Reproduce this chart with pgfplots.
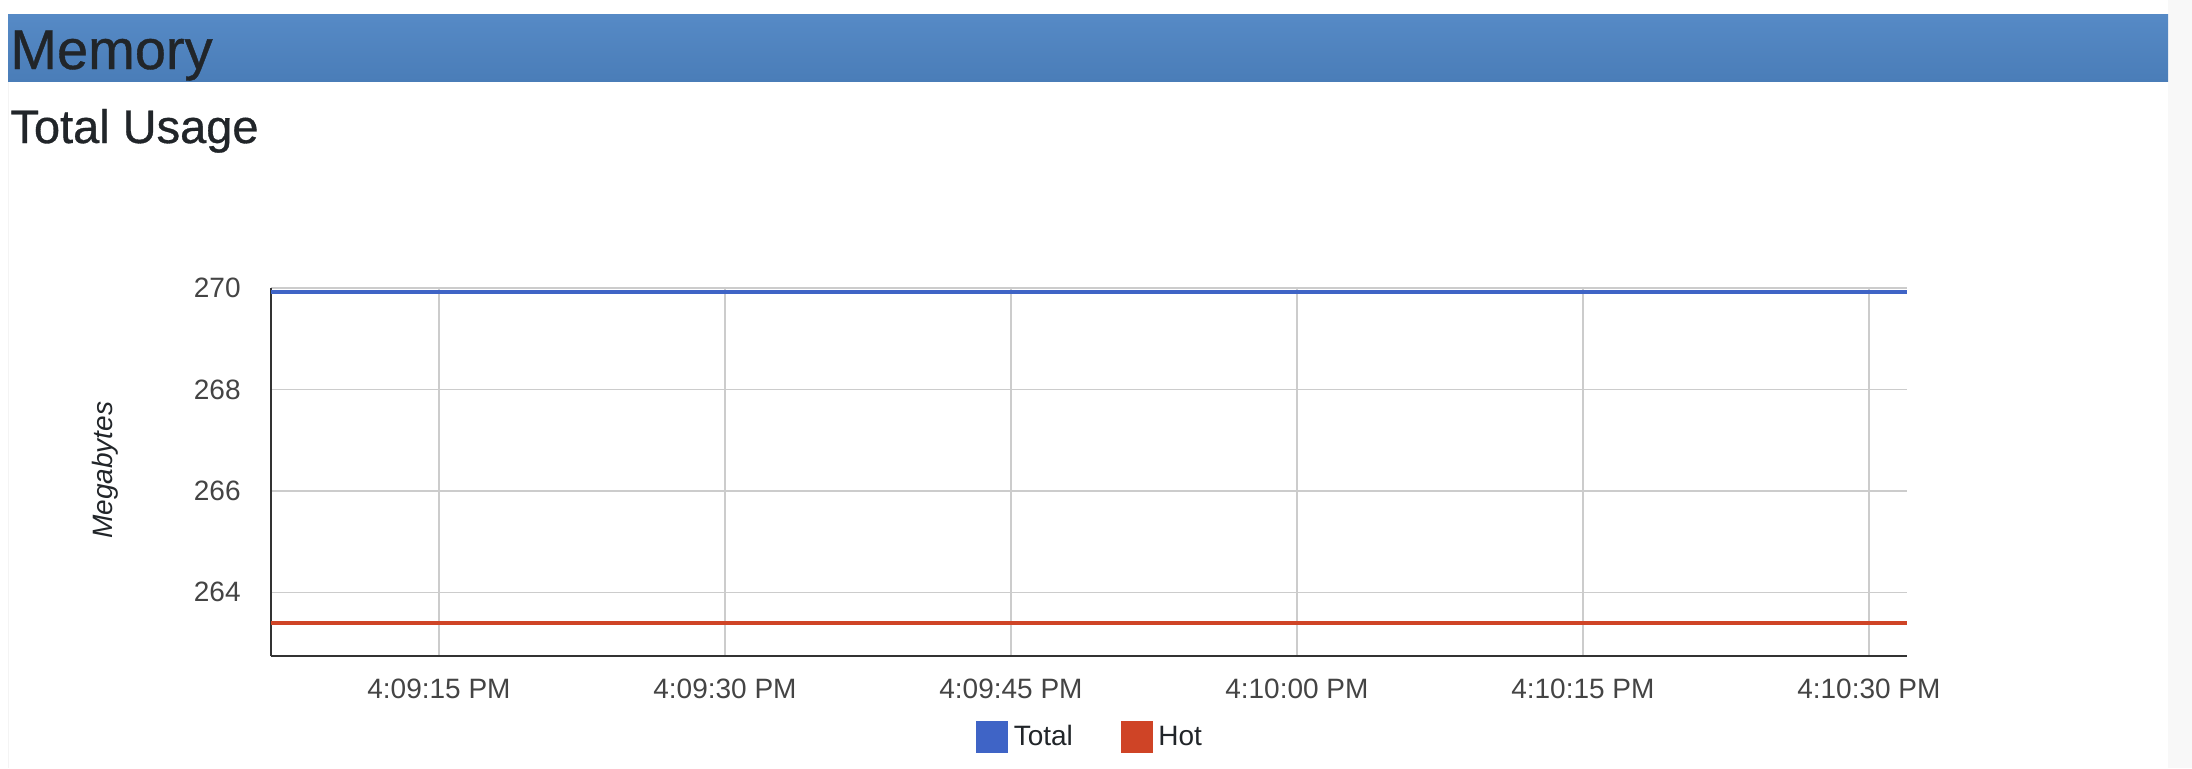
\documentclass[border=0pt]{standalone}
\usepackage{pgfplots}
\pgfplotsset{compat=1.18}
\usepackage{fontspec}
\setmainfont{Liberation Sans}
\newfontfamily\hdrfont[FakeBold=0.7]{Liberation Sans}
\definecolor{totalc}{HTML}{3F64C6}
\definecolor{hotc}{HTML}{CF4426}
\definecolor{hdrtop}{HTML}{568AC6}
\definecolor{hdrbot}{HTML}{4A7DB8}
\definecolor{txt}{HTML}{212529}
\definecolor{tick}{HTML}{444444}
\definecolor{gridc}{HTML}{CCCCCC}
\begin{document}
\begin{tikzpicture}
\fill[white] (0,0) rectangle (1096pt,-384pt);
\useasboundingbox (0,0) rectangle (1096pt,-384pt);
\fill[color={rgb,255:red,248;green,248;blue,248}] (1084pt,0) rectangle (1096pt,-384pt);
\draw[color={rgb,255:red,244;green,244;blue,244}, line width=0.5pt] (4pt,-40pt) -- (4pt,-384pt);
\shade[top color=hdrtop, bottom color=hdrbot] (4pt,-7pt) rectangle (1084pt,-40.5pt);
\node[anchor=base west, inner sep=0pt, text=txt, font=\hdrfont\fontsize{28pt}{30pt}\selectfont] at (5pt,-34.5pt) {Memory};
\node[anchor=base west, inner sep=0pt, text=txt, font=\hdrfont\fontsize{23.5pt}{26pt}\selectfont] at (5pt,-71.5pt) {Total Usage};
\begin{axis}[
  at={(135.5pt,-328pt)}, anchor=south west,
  scale only axis, width=818pt, height=184pt,
  xmin=6.19, xmax=92, ymin=262.745, ymax=270,
  axis x line*=bottom, axis y line*=left,
  axis line style={color={rgb,255:red,51;green,51;blue,51}, line width=1pt, -},
  major tick length=0pt,
  xtick={15,30,45,60,75,90},
  xticklabels={4:09:15 PM,4:09:30 PM,4:09:45 PM,4:10:00 PM,4:10:15 PM,4:10:30 PM},
  ytick={264,266,268,270},
  grid=major,
  major grid style={color=gridc, line width=0.75pt},
  /pgf/number format/assume math mode=true,
  tick label style={font=\fontsize{14pt}{16pt}\selectfont, text=tick, inner sep=0pt},
  xticklabel style={anchor=center, yshift=-16.5pt},
  yticklabel style={anchor=east, xshift=-15pt},
  ylabel={Megabytes},
  ylabel style={at={(axis description cs:-0.1015,0.505)}, anchor=center, font=\itshape\fontsize{14pt}{16pt}\selectfont, text=txt, inner sep=0pt},
  legend columns=2,
  legend style={at={(0.4309,-0.2201)}, anchor=west, draw=none, fill=none, inner sep=0pt,
    font=\fontsize{14pt}{16pt}\selectfont, text=txt,
    nodes={inner sep=0pt, anchor=west},
    column sep=2.7pt,
    /tikz/every even column/.append style={column sep=24pt}},
  legend image code/.code={\fill (0pt,-7pt) rectangle (14pt,7pt);},
  clip=false,
]
\addplot[color=totalc, line width=2pt, mark=none] coordinates {
 (6.19,269.92) (15,269.92) (30,269.92) (45,269.92) (60,269.92) (75,269.92) (90,269.92) (92,269.92)};
\addlegendentry{Total}
\addplot[color=hotc, line width=2pt, mark=none] coordinates {
 (6.19,263.40) (15,263.40) (30,263.40) (45,263.40) (60,263.40) (75,263.40) (90,263.40) (92,263.40)};
\addlegendentry{Hot}
\end{axis}
\end{tikzpicture}
\end{document}
